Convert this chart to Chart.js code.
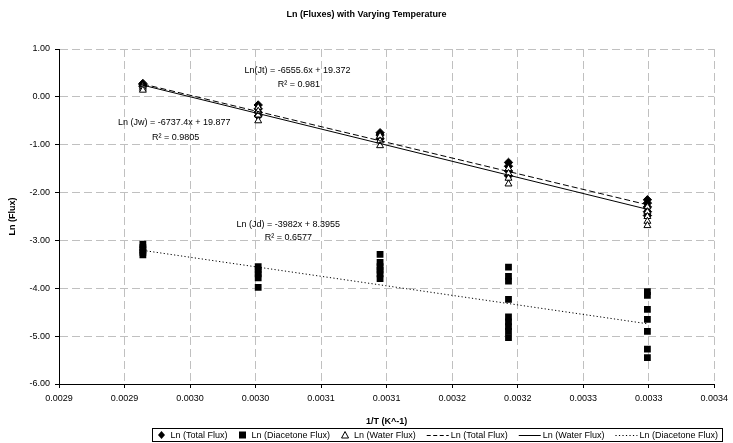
<!DOCTYPE html>
<html><head><meta charset="utf-8">
<script src="https://cdn.jsdelivr.net/npm/chart.js@4.4.0/dist/chart.umd.min.js"></script>
<style>html,body{margin:0;padding:0;background:#fff;} canvas{display:block;}</style>
</head><body>
<canvas id="c" width="733" height="443"></canvas>
<script>
// ---- data ----
const invTemp = [0.002914, 0.003002, 0.003095, 0.003193, 0.003299];
const totalFlux = [
  [0.28, 0.25, 0.22],
  [-0.17, -0.25, -0.32, -0.40],
  [-0.75, -0.80, -0.88],
  [-1.37, -1.45, -1.55, -1.65],
  [-2.15, -2.22, -2.30, -2.40, -2.48]
];
const diacetoneFlux = [
  [-3.08, -3.15, -3.20, -3.25, -3.30],
  [-3.55, -3.62, -3.70, -3.78, -3.98],
  [-3.29, -3.46, -3.55, -3.62, -3.70, -3.80],
  [-3.56, -3.75, -3.85, -4.23, -4.60, -4.70, -4.80, -4.90, -5.03],
  [-4.07, -4.15, -4.44, -4.65, -4.90, -5.27, -5.45]
];
const waterFlux = [
  [0.22, 0.18, 0.14],
  [-0.22, -0.30, -0.38, -0.50],
  [-0.82, -0.92, -1.02],
  [-1.50, -1.60, -1.70, -1.82],
  [-2.30, -2.40, -2.50, -2.60, -2.69]
];
const trendSlopes = [-6555.6, -6737.4, -3982];
const trendIntercepts = [19.372, 19.877, 8.3955];
const seriesLabels = ['Ln (Total Flux)', 'Ln (Diacetone Flux)', 'Ln (Water Flux)'];
const chartTitle = 'Ln (Fluxes) with Varying Temperature';
const xTickValues = [0.00285, 0.0029, 0.00295, 0.0030, 0.00305, 0.0031, 0.00315, 0.0032, 0.00325, 0.0033, 0.00335];
const xTickLabels = ['0.0029', '0.0029', '0.0030', '0.0030', '0.0031', '0.0031', '0.0032', '0.0032', '0.0033', '0.0033', '0.0034'];
const yTickValues = [1, 0, -1, -2, -3, -4, -5, -6];
const yTickLabels = ['1.00', '0.00', '-1.00', '-2.00', '-3.00', '-4.00', '-5.00', '-6.00'];

// ---- build chart ----
const FONT = "'Liberation Sans', Arial, sans-serif";
Chart.defaults.font.family = FONT;
Chart.defaults.color = '#000';

function toPoints(groups) {
  const pts = [];
  groups.forEach((g, i) => g.forEach(v => pts.push({ x: invTemp[i], y: v })));
  return pts;
}
function trend(k) {
  const x0 = invTemp[0], x1 = invTemp[invTemp.length - 1];
  return [{ x: x0, y: trendSlopes[k] * x0 + trendIntercepts[k] },
          { x: x1, y: trendSlopes[k] * x1 + trendIntercepts[k] }];
}

const datasets = [
  { label: seriesLabels[0], data: toPoints(totalFlux), pointStyle: 'rectRot', pointRadius: 4.2,
    backgroundColor: '#000', borderColor: '#000', borderWidth: 1, order: 2, legendSym: 'rectRot' },
  { label: seriesLabels[1], data: toPoints(diacetoneFlux), pointStyle: 'rect', pointRadius: 4.8,
    backgroundColor: '#000', borderColor: '#000', borderWidth: 0, order: 3, legendSym: 'rect' },
  { label: seriesLabels[2], data: toPoints(waterFlux), pointStyle: 'triangle', pointRadius: 4,
    backgroundColor: '#fff', borderColor: '#000', borderWidth: 1, order: 1, legendSym: 'triangle' },
  { label: seriesLabels[0], data: trend(0), showLine: true, pointRadius: 0, borderColor: '#000',
    borderWidth: 1, borderDash: [6, 3], order: 0, legendLine: [4, 2.5] },
  { label: seriesLabels[2], data: trend(1), showLine: true, pointRadius: 0, borderColor: '#000',
    borderWidth: 1, borderDash: [], order: 0, legendLine: [] },
  { label: seriesLabels[1], data: trend(2), showLine: true, pointRadius: 0, borderColor: '#000',
    borderWidth: 1, borderDash: [1.2, 2.3], order: 0, legendLine: [1.2, 2.3] }
];

const annotationPlugin = {
  id: 'eqLabels',
  afterDatasetsDraw(chart, args, opts) {
    const { ctx, scales: { x, y } } = chart;
    ctx.save();
    ctx.font = '9px ' + FONT;
    ctx.fillStyle = '#000';
    ctx.textAlign = 'center';
    ctx.textBaseline = 'middle';
    opts.items.forEach(it => {
      ctx.fillText(it.text, x.getPixelForValue(it.x), y.getPixelForValue(it.y));
    });
    ctx.restore();
  }
};

const titlePlugin = {
  id: 'pageTitle',
  afterDraw(chart, args, opts) {
    const ctx = chart.ctx;
    ctx.save();
    ctx.font = 'bold 9px ' + FONT;
    ctx.fillStyle = '#000';
    ctx.textAlign = 'center';
    ctx.textBaseline = 'middle';
    ctx.fillText(opts.text, chart.width / 2, opts.y);
    ctx.restore();
  }
};

const legendPlugin = {
  id: 'boxLegend',
  afterDraw(chart, args, opts) {
    const ctx = chart.ctx;
    ctx.save();
    ctx.font = '9px ' + FONT;
    const ds = chart.data.datasets;
    const pieces = ds.map(d => {
      const symW = d.legendSym ? 8 : 22;
      const gap = d.legendSym ? 5 : 2;
      return { d, symW, gap, tw: ctx.measureText(d.label).width };
    });
    const itemGap = 11, pad = 5;
    let total = pad * 2;
    pieces.forEach((p, i) => { total += p.symW + p.gap + p.tw + (i < pieces.length - 1 ? itemGap : 0); });
    const left = Math.round(opts.centerX - total / 2) + 0.5;
    const top = opts.top + 0.5, h = opts.height;
    ctx.strokeStyle = '#000';
    ctx.lineWidth = 1;
    ctx.strokeRect(left, top, Math.round(total), h);
    const cy = top + h / 2;
    let cx = left + pad;
    ctx.textBaseline = 'middle';
    ctx.textAlign = 'left';
    pieces.forEach(p => {
      const d = p.d;
      if (d.legendSym) {
        const mx = cx + p.symW / 2;
        ctx.beginPath();
        if (d.legendSym === 'rectRot') {
          ctx.moveTo(mx, cy - 4); ctx.lineTo(mx + 3.5, cy); ctx.lineTo(mx, cy + 4); ctx.lineTo(mx - 3.5, cy); ctx.closePath();
          ctx.fillStyle = '#000'; ctx.fill();
        } else if (d.legendSym === 'rect') {
          ctx.rect(mx - 3.5, cy - 3.5, 7, 7); ctx.fillStyle = '#000'; ctx.fill();
        } else {
          ctx.moveTo(mx, cy - 3.5); ctx.lineTo(mx + 3.5, cy + 3); ctx.lineTo(mx - 3.5, cy + 3); ctx.closePath();
          ctx.fillStyle = '#fff'; ctx.fill(); ctx.strokeStyle = '#000'; ctx.stroke();
        }
      } else {
        ctx.beginPath();
        ctx.setLineDash(d.legendLine);
        ctx.moveTo(cx, Math.round(cy) + 0.5); ctx.lineTo(cx + p.symW, Math.round(cy) + 0.5);
        ctx.strokeStyle = '#000'; ctx.stroke();
        ctx.setLineDash([]);
      }
      cx += p.symW + p.gap;
      ctx.fillStyle = '#000';
      ctx.fillText(d.label, cx, cy + 0.5);
      cx += p.tw + itemGap;
    });
    ctx.restore();
  }
};

new Chart(document.getElementById('c'), {
  type: 'scatter',
  data: { datasets },
  options: {
    responsive: false,
    animation: false,
    events: [],
    layout: { padding: { left: 0, right: 17, top: 49, bottom: 15 } },
    plugins: {
      legend: { display: false },
      tooltip: { enabled: false },
      title: { display: false },
      pageTitle: { text: chartTitle, y: 15 },
      eqLabels: {
        items: [
          { text: 'Ln(Jt) = -6555.6x + 19.372', x: 0.003032, y: 0.54 },
          { text: 'R² = 0.981', x: 0.003033, y: 0.25 },
          { text: 'Ln (Jw) = -6737.4x + 19.877', x: 0.002938, y: -0.54 },
          { text: 'R² = 0.9805', x: 0.002939, y: -0.85 },
          { text: 'Ln (Jd) = -3982x + 8.3955', x: 0.003025, y: -2.67 },
          { text: 'R² = 0.6577', x: 0.003025, y: -2.94 }
        ]
      },
      boxLegend: { centerX: 437, top: 428, height: 13 }
    },
    scales: {
      x: {
        type: 'linear',
        min: xTickValues[0],
        max: xTickValues[xTickValues.length - 1],
        afterBuildTicks: s => { s.ticks = xTickValues.map(v => ({ value: v })); },
        afterFit: s => { s.height = 44; },
        ticks: { callback: (v, i) => xTickLabels[i], font: { size: 9 }, color: '#000', padding: 5, maxRotation: 0, autoSkip: false },
        grid: { color: '#c0c0c0', lineWidth: 1, tickLength: 4, tickColor: '#000', tickWidth: 1 },
        border: { display: true, color: '#000', width: 1, dash: [8, 4] },
        title: { display: true, text: '1/T (K^-1)', font: { size: 9, weight: 'bold' }, color: '#000', padding: { top: 2, bottom: 1 } }
      },
      y: {
        type: 'linear',
        min: -6,
        max: 1,
        afterBuildTicks: s => { s.ticks = yTickValues.map(v => ({ value: v })); },
        afterFit: s => { s.width = 59; },
        ticks: { callback: (v, i) => yTickLabels[i], font: { size: 9 }, color: '#000', padding: 5 },
        grid: { color: '#c0c0c0', lineWidth: 1, tickLength: 4, tickColor: '#000', tickWidth: 1 },
        border: { display: true, color: '#000', width: 1, dash: [8, 4] },
        title: { display: true, text: 'Ln (Flux)', font: { size: 9, weight: 'bold' }, color: '#000', padding: { top: 7, bottom: 0 } }
      }
    }
  },
  plugins: [annotationPlugin, titlePlugin, legendPlugin]
});
</script>
</body></html>
